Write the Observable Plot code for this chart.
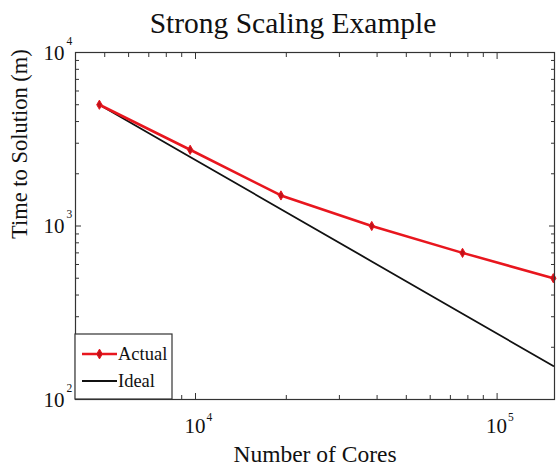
<!DOCTYPE html>
<html><head><meta charset="utf-8">
<script src="https://cdn.jsdelivr.net/npm/d3@7"></script>
<script src="https://cdn.jsdelivr.net/npm/@observablehq/plot@0.6"></script>
<style>body{margin:0;background:#fff} svg{display:block}</style>
</head><body><div id="chart"></div>
<script>
const cores = [4800, 9600, 19200, 38400, 76800, 153600];
const actual = [5000, 2750, 1500, 1000, 700, 500];
const ideal = [5000, 2500, 1250, 625, 312, 156];
const xMajor = [1e4, 1e5];
const xMajorExp = ["4", "5"];
const xMinor = [5000, 6000, 7000, 8000, 9000, 20000, 30000, 40000, 50000, 60000, 70000, 80000, 90000];
const yMajor = [100, 1000, 10000];
const yMajorExp = ["2", "3", "4"];
const yMinor = [200, 300, 400, 500, 600, 700, 800, 900, 2000, 3000, 4000, 5000, 6000, 7000, 8000, 9000];
const seriesNames = ["Actual", "Ideal"];
const title = "Strong Scaling Example";
const xLabel = "Number of Cores";
const yLabel = "Time to Solution (m)";

const rows = cores.map((c, i) => ({c, actual: actual[i], ideal: ideal[i]}));
const serif = "Liberation Serif, Times New Roman, serif";
const red = "#e8161e";

const inTicks = (axis, anchor, ticks, size) =>
  axis({anchor, ticks, tickSize: -size, tickFormat: () => "", stroke: "#333", label: null});

const chart = Plot.plot({
  width: 557, height: 468,
  marginLeft: 75, marginRight: 3, marginTop: 52, marginBottom: 69,
  style: {fontFamily: serif, background: "#fff", color: "#111"},
  x: {type: "log", domain: [4000, 155000]},
  y: {type: "log", domain: [100, 10000]},
  marks: [
    inTicks(Plot.axisX, "bottom", xMinor, 4),
    inTicks(Plot.axisX, "bottom", xMajor, 6),
    inTicks(Plot.axisX, "top", xMinor, 4),
    inTicks(Plot.axisX, "top", xMajor, 6),
    inTicks(Plot.axisY, "left", yMinor, 4),
    inTicks(Plot.axisY, "left", yMajor, 6),
    inTicks(Plot.axisY, "right", yMinor, 4),
    inTicks(Plot.axisY, "right", yMajor, 6),
    Plot.lineY(rows, {x: "c", y: "ideal", stroke: "#111", strokeWidth: 1.8}),
    Plot.lineY(rows, {x: "c", y: "actual", stroke: red, strokeWidth: 2.6}),
    Plot.dot(rows, {x: "c", y: "actual", symbol: "diamond", r: 2.8, fill: "#c0121a", stroke: red, strokeWidth: 1}),
    Plot.frame({stroke: "#333", strokeWidth: 1.2}),
    // tick labels
    Plot.text(xMajor, {x: d => d, frameAnchor: "bottom", text: () => "10", textAnchor: "end", lineAnchor: "bottom", dx: 10, dy: 33, fontSize: 21, fill: "#111"}),
    Plot.text(xMajor, {x: d => d, frameAnchor: "bottom", text: (d, i) => xMajorExp[i], textAnchor: "start", lineAnchor: "bottom", dx: 11, dy: 21, fontSize: 11.5, fill: "#111"}),
    Plot.text(yMajor, {y: d => d, frameAnchor: "left", text: () => "10", textAnchor: "end", lineAnchor: "bottom", dx: -11, dy: 7, fontSize: 21, fill: "#111"}),
    Plot.text(yMajor, {y: d => d, frameAnchor: "left", text: (d, i) => yMajorExp[i], textAnchor: "start", lineAnchor: "bottom", dx: -9, dy: -8, fontSize: 11.5, fill: "#111"}),
    // titles
    Plot.text([title], {frameAnchor: "top", text: d => d, lineAnchor: "bottom", dx: -22, dy: -20, fontSize: 29.5, fill: "#111"}),
    Plot.text([xLabel], {frameAnchor: "bottom", text: d => d, lineAnchor: "bottom", dy: 62, fontSize: 23.5, fill: "#111"}),
    Plot.text([yLabel], {frameAnchor: "left", text: d => d, rotate: -90, lineAnchor: "top", dx: -64, dy: 13, fontSize: 22.5, fill: "#111"})
  ]
});

// legend box in the lower-left corner of the frame
const svg = d3.select(chart);
const g = svg.append("g").attr("font-family", serif).attr("text-anchor", "start");
const bx = 75, by = 334, bw = 97, bh = 65;
g.append("rect").attr("x", bx).attr("y", by).attr("width", bw).attr("height", bh)
  .attr("fill", "#fff").attr("stroke", "#333").attr("stroke-width", 1.2);
const legendStyles = [
  {stroke: red, w: 2.6, marker: true},
  {stroke: "#111", w: 1.8, marker: false}
];
seriesNames.forEach((name, i) => {
  const y = by + 20 + i * 27;
  const s = legendStyles[i];
  g.append("line").attr("x1", bx + 7).attr("x2", bx + 42).attr("y1", y).attr("y2", y)
    .attr("stroke", s.stroke).attr("stroke-width", s.w);
  if (s.marker) g.append("path").attr("d", d3.symbol(d3.symbolDiamond, 28)())
    .attr("transform", `translate(${bx + 24.5},${y})`).attr("fill", "#c0121a").attr("stroke", red);
  g.append("text").attr("x", bx + 43).attr("y", y + 6).attr("font-size", 18.5).attr("fill", "#111").text(name);
});

document.getElementById("chart").append(chart);
</script>
</body></html>
